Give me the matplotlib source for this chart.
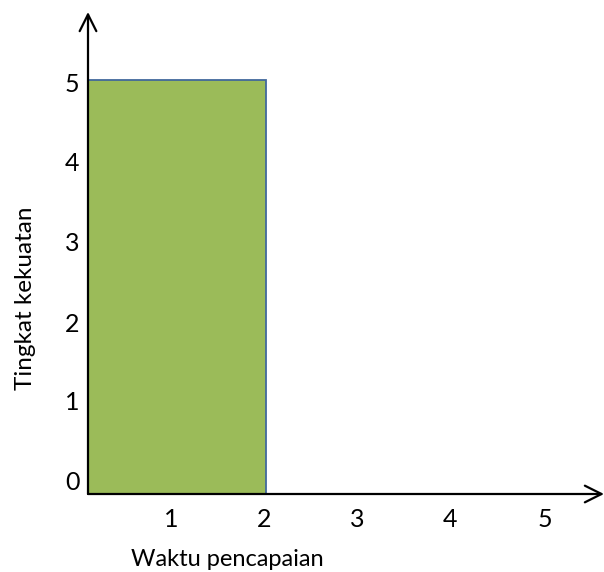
import matplotlib
matplotlib.use("Agg")
from matplotlib import pyplot as plt
from matplotlib.transforms import ScaledTranslation

# data
bar_start = [0]
bar_width = [2]
bar_height = [5]
x_ticks = [1, 2, 3, 4, 5]
y_ticks = [0, 1, 2, 3, 4, 5]
x_title = 'Waktu pencapaian'
y_title = 'Tingkat kekuatan'

plt.rcParams['font.family'] = ['Lato', 'DejaVu Sans']

fig = plt.figure(figsize=(6.04, 5.72), dpi=100)
W, H = 604, 572
# axes box in pixels: origin (88, 494), right end 604, top 12
ax = fig.add_axes([88 / W, (H - 494) / H, (W - 88) / W, (494 - 12) / H])

ax.bar(bar_start, bar_height, width=bar_width, align='edge',
       color='#9BBB59', edgecolor='#41689C', linewidth=1.3, zorder=2)

ax.set_xlim(0, (W - 88) / 89.0)
ax.set_ylim(0, (494 - 12) / 82.8)

for s in ax.spines.values():
	s.set_visible(False)

# arrows for the two axes
arrow = dict(arrowstyle='->', color='black', lw=1.6, mutation_scale=30,
             shrinkA=0, shrinkB=0)
ax.annotate('', xy=(1, 0), xytext=(0, 0), xycoords='axes fraction',
            arrowprops=arrow, annotation_clip=False, zorder=3)
ax.annotate('', xy=(0, 1), xytext=(0, 0), xycoords='axes fraction',
            arrowprops=arrow, annotation_clip=False, zorder=3)

ax.set_xticks(x_ticks)
ax.set_yticks(y_ticks)
ax.tick_params(length=0, labelsize=18, colors='black')
ax.tick_params(axis='x', pad=10)
ax.tick_params(axis='y', pad=6)

# the labels in the original are loose text boxes, nudge them a little (pixels)
x_nudge = [-6, -2, 2, 6, 12]
y_nudge = [14, 11, 6, 4, 1, -2]
for lab, dx in zip(ax.get_xticklabels(), x_nudge):
	lab.set_transform(lab.get_transform() + ScaledTranslation(dx / 100, 0, fig.dpi_scale_trans))
for lab, dy in zip(ax.get_yticklabels(), y_nudge):
	lab.set_transform(lab.get_transform() + ScaledTranslation(0, dy / 100, fig.dpi_scale_trans))

fig.text(227 / W, 1 - 560 / H, x_title, fontsize=17, ha='center', va='center')
fig.text(25 / W, 1 - 298 / H, y_title, fontsize=17.5, ha='center', va='center',
         rotation=90)

fig.savefig('out.png', dpi=100)
